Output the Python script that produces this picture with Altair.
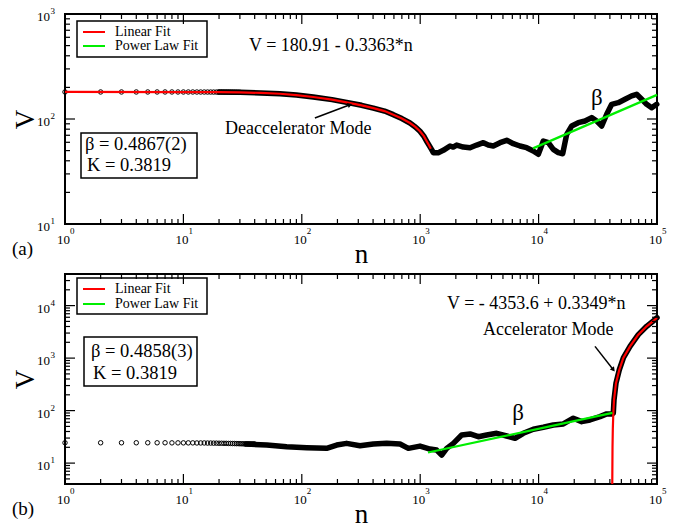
import altair as alt
import pandas as pd

FONT = "Liberation Serif"
W, H = 592, 210

# ---------------- axis ticks and tick labels ----------------
x_major = [1, 10, 100, 1000, 10000, 100000]
x_exponents = ["0", "1", "2", "3", "4", "5"]
x_minor = [m * 10 ** k for k in range(5) for m in range(2, 10)]

top_y_major = [10, 100, 1000]
top_y_exponents = ["1", "2", "3"]
top_y_minor = [m * 10 ** k for k in (1, 2) for m in range(2, 10)]

bot_y_major = [10, 100, 1000, 10000]
bot_y_exponents = ["1", "2", "3", "4"]
bot_y_minor = [5, 6, 7, 8, 9] + [m * 10 ** k for k in (1, 2, 3) for m in range(2, 10)] + [20000, 30000]

fit_names = ["Linear Fit", "Power Law Fit"]
fit_colors = ["#ff0000", "#00ee00"]

# ---------------- panel (a): decelerating run ----------------
a_circle_n = list(range(1, 31))
a_circle_v = [180.9, 180.9, 180.9, 180.9, 180.9, 180.9, 180.9, 180.9, 180.8, 180.8,
              180.8, 180.8, 180.7, 180.7, 180.7, 180.6, 180.6, 180.5, 180.5, 180.4,
              180.4, 180.3, 180.3, 180.2, 180.1, 180.0, 179.9, 179.8, 179.7, 179.5]

a_band_n = [20, 30, 45, 65.5, 90, 125, 180, 239, 320, 402, 500, 593, 700, 820, 910,
            996, 1070, 1135, 1190, 1250, 1291, 1422, 1567, 1786, 1900, 2033, 2312,
            2636, 3000, 3414, 3760, 4143, 4721, 5379, 6113, 6966, 7928, 9020, 9950,
            10960, 12080, 13310, 14670, 15980, 17270, 19040, 21640, 24660, 28070,
            30960, 34120, 37600, 41420, 47100, 53700, 61100, 67300, 74300, 81800,
            90200, 99500]
a_band_v = [180.3, 179.5, 177, 174, 169, 162, 153, 144, 135, 127, 119, 110, 101, 91.6, 84,
            76.4, 69, 61.3, 56, 51, 47.8, 47.8, 50.3, 55.3, 54.0, 56.5, 54.1,
            53.3, 56.5, 59.5, 56.5, 55.3, 59.5, 62.7, 58.2, 55.3, 53.3, 49.6, 46.1,
            61.7, 59.5, 51.4, 47.8, 46.7, 71.5, 85.8, 92.2, 95.7, 103,
            95.7, 85.8, 111, 138, 143, 154, 166, 172, 154, 138,
            128, 138]

a_lin_n = [1, 10, 20, 30, 45, 65.5, 90, 125, 180, 239, 320, 402, 500, 593, 700, 820,
           910, 996, 1070, 1135, 1190, 1230]
a_lin_v = [180.91, 180.6, 180.3, 179.5, 177, 174, 169, 162, 153, 144, 135, 127, 119, 110,
           101, 91.6, 84, 76.4, 69, 61.3, 56, 52]

a_beta, a_K = 0.4867, 0.3819
a_pow_n = [8970, 100000]
a_pow_v0 = 52.5

# ---------------- panel (b): accelerating run ----------------
b_circle_n = list(range(1, 41))
b_circle_v = [24.4, 24.4, 24.4, 24.4, 24.4, 24.4, 24.4, 24.3, 24.3, 24.3,
              24.3, 24.3, 24.2, 24.2, 24.2, 24.1, 24.1, 24.0, 24.0, 23.9,
              23.9, 23.8, 23.8, 23.7, 23.7, 23.6, 23.6, 23.5, 23.5, 23.4,
              23.4, 23.3, 23.3, 23.2, 23.2, 23.2, 23.1, 23.1, 23.1, 23.1]

b_band_n = [34, 50.6, 74.6, 110, 162, 197, 239, 310, 402, 521, 675, 794, 996, 1210,
            1378, 1519, 1675, 1905, 2240, 2636, 3096, 3645, 4426, 5379, 6322, 7430,
            9020, 10960, 13310, 16170, 19640, 23120, 27160, 33000, 37600, 41420,
            42760, 43350, 45050, 48060, 51960, 59180, 69530, 81800, 96140, 100000]
b_band_v = [23.1, 22.1, 20.5, 19.6, 19.1, 22.1, 23.8, 21.4, 23.1, 23.8, 23.1, 19.1, 21.1, 18.5,
            17.7, 14.2, 19.1, 23.8, 34.3, 35.9, 31.8, 34.3, 37.0, 32.8, 29.7, 37.0,
            44.1, 48.2, 53.3, 55.7, 71.6, 61.6, 66.4, 76.8, 86.5, 86.5,
            89.2, 160, 334, 600, 1005, 1675, 2800, 4040, 5420, 5900]

b_lin_n = [41900, 42100, 42350, 42760, 43350, 45050, 48060, 51960, 59180, 69530,
           81800, 96140, 100000]
b_lin_v = [4, 20, 45, 89.2, 160, 334, 600, 1005, 1675, 2800, 4040, 5420, 5900]

b_beta, b_K = 0.4858, 0.3819
b_pow_n = [1164, 42000]
b_pow_v0 = 15.9


def power_law(ns, v0, beta):
    return [v0 * (n / ns[0]) ** beta for n in ns]


def one_row():
    return pd.DataFrame({"k": [0]})


def panel(tag, y_domain, y_major, y_exps, y_minor, circ_n, circ_v, band_n, band_v,
          lin_n, lin_v, pow_n, pow_v, legend_box, legend_rows, stats, stats_box, stats_x,
          notes, beta_pos, arrow):
    x_scale = alt.Scale(type="log", domain=[1, 100000], nice=False)
    y_scale = alt.Scale(type="log", domain=y_domain, nice=False)
    x_axis = alt.Axis(title="n", labels=False, ticks=False, domain=False, grid=False,
                      titleFont=FONT, titleFontSize=27, titleFontWeight="normal",
                      titleColor="black", titleY=38, titleBaseline="alphabetic")
    y_axis = alt.Axis(title="V", labels=False, ticks=False, domain=False, grid=False,
                      titleFont=FONT, titleFontSize=27, titleFontWeight="normal",
                      titleColor="black", titleX=-32, titleBaseline="alphabetic")
    X = alt.X("n:Q", scale=x_scale, axis=x_axis)
    Y = alt.Y("V:Q", scale=y_scale, axis=y_axis)

    layers = []

    # data: single circles for the first steps, then the dense run as a thick band
    layers.append(alt.Chart(pd.DataFrame({"n": circ_n, "V": circ_v})).mark_point(
        shape="circle", filled=False, size=20, color="black", strokeWidth=1, opacity=1
    ).encode(x=X, y=Y))
    layers.append(alt.Chart(pd.DataFrame({"n": band_n, "V": band_v})).mark_line(
        color="black", strokeWidth=5.5, strokeJoin="round", strokeCap="round"
    ).encode(x=X, y=Y))

    # fits
    fits = pd.DataFrame({
        "n": lin_n + pow_n,
        "V": lin_v + pow_v,
        "fit": [fit_names[0]] * len(lin_n) + [fit_names[1]] * len(pow_n),
    })
    layers.append(alt.Chart(fits).mark_line(strokeWidth=2.2).encode(
        x=X, y=Y,
        color=alt.Color("fit:N", scale=alt.Scale(domain=fit_names, range=fit_colors), legend=None),
    ))

    # fit key in the upper-left corner
    lx0, lx1, ly0, ly1 = legend_box
    layers.append(alt.Chart(one_row()).mark_rect(filled=False, stroke="black", strokeWidth=1.5).encode(
        x=alt.value(lx0), x2=alt.value(lx1), y=alt.value(ly0), y2=alt.value(ly1)))
    for name, col, yy in zip(fit_names, fit_colors, legend_rows):
        layers.append(alt.Chart(one_row()).mark_rule(color=col, strokeWidth=2).encode(
            x=alt.value(lx0 + 6), x2=alt.value(lx0 + 28), y=alt.value(yy)))
        layers.append(alt.Chart(one_row()).mark_text(font=FONT, fontSize=14, align="left",
                                                     baseline="middle", color="black").encode(
            x=alt.value(lx0 + 38), y=alt.value(yy), text=alt.value(name)))

    # inward ticks on all four sides
    xmaj = pd.DataFrame({"n": x_major})
    xmin = pd.DataFrame({"n": x_minor})
    ymaj = pd.DataFrame({"V": y_major})
    ymin = pd.DataFrame({"V": y_minor})
    tick = dict(color="black", strokeWidth=1.2)
    for df, ln in ((xmaj, 10), (xmin, 5)):
        layers.append(alt.Chart(df).mark_rule(**tick).encode(x=X, y=alt.value(H), y2=alt.value(H - ln)))
        layers.append(alt.Chart(df).mark_rule(**tick).encode(x=X, y=alt.value(0), y2=alt.value(ln)))
    for df, ln in ((ymaj, 10), (ymin, 5)):
        layers.append(alt.Chart(df).mark_rule(**tick).encode(y=Y, x=alt.value(0), x2=alt.value(ln)))
        layers.append(alt.Chart(df).mark_rule(**tick).encode(y=Y, x=alt.value(W), x2=alt.value(W - ln)))

    # tick labels: "10" with a raised exponent
    xl = pd.DataFrame({"n": x_major, "e": x_exponents})
    layers.append(alt.Chart(xl).mark_text(font=FONT, fontSize=13, align="center",
                                          baseline="alphabetic", dx=-1.5, color="black").encode(
        x=X, y=alt.value(H + 19.5), text=alt.value("10")))
    layers.append(alt.Chart(xl).mark_text(font=FONT, fontSize=9, align="left",
                                          baseline="alphabetic", dx=5, color="black").encode(
        x=X, y=alt.value(H + 9.5), text="e:N"))
    yl = pd.DataFrame({"V": y_major, "e": y_exps})
    layers.append(alt.Chart(yl).mark_text(font=FONT, fontSize=13, align="right",
                                          baseline="alphabetic", dy=7, color="black").encode(
        y=Y, x=alt.value(-15), text=alt.value("10")))
    layers.append(alt.Chart(yl).mark_text(font=FONT, fontSize=9, align="left",
                                          baseline="alphabetic", dy=0, color="black").encode(
        y=Y, x=alt.value(-14.5), text="e:N"))

    # fit parameters box
    bx0, bx1, by0, by1 = stats_box
    layers.append(alt.Chart(one_row()).mark_rect(filled=False, stroke="black", strokeWidth=1.5).encode(
        x=alt.value(bx0), x2=alt.value(bx1), y=alt.value(by0), y2=alt.value(by1)))
    for (txt, yy), xx in zip(stats, stats_x):
        layers.append(alt.Chart(one_row()).mark_text(font=FONT, fontSize=18.5, align="left",
                                                     baseline="middle", color="black").encode(
            x=alt.value(xx), y=alt.value(yy), text=alt.value(txt)))

    # annotations in data coordinates
    nd = pd.DataFrame(notes, columns=["n", "V", "label"])
    layers.append(alt.Chart(nd).mark_text(font=FONT, fontSize=18, align="left",
                                          baseline="middle", color="black").encode(
        x=X, y=Y, text="label:N"))
    layers.append(alt.Chart(pd.DataFrame({"n": [beta_pos[0]], "V": [beta_pos[1]], "label": ["β"]})).mark_text(
        font=FONT, fontSize=23, align="center", baseline="middle", color="black").encode(
        x=X, y=Y, text="label:N"))
    (n1, v1), (n2, v2), ang = arrow
    ad = pd.DataFrame({"n": [n1], "V": [v1], "n2": [n2], "V2": [v2]})
    layers.append(alt.Chart(ad).mark_rule(color="black", strokeWidth=1.5).encode(
        x=X, y=Y, x2="n2:Q", y2="V2:Q"))
    layers.append(alt.Chart(pd.DataFrame({"n": [n2], "V": [v2]})).mark_point(
        shape="triangle-up", filled=True, size=28, angle=ang, color="black", opacity=1).encode(x=X, y=Y))

    # panel tag
    layers.append(alt.Chart(one_row()).mark_text(font=FONT, fontSize=19, align="left",
                                                 baseline="middle", color="black").encode(
        x=alt.value(-53), y=alt.value(235), text=alt.value(tag)))

    return alt.layer(*layers).properties(width=W, height=H)


top = panel(
    "(a)", [10, 1000], top_y_major, top_y_exponents, top_y_minor,
    a_circle_n, a_circle_v, a_band_n, a_band_v, a_lin_n, a_lin_v,
    a_pow_n, power_law(a_pow_n, a_pow_v0, a_beta),
    (12, 142, 7, 43), (18, 32),
    [(f"β = {a_beta}(2)", 130), (f"K = {a_K}", 151)], (16, 132, 119, 164), (20, 22),
    [(35.8, 495, "V = 180.91 - 0.3363*n"), (22.5, 80.4, "Deaccelerator Mode")],
    (31100, 158),
    ((129, 102.2), (255, 136.8), 69),
)

bottom = panel(
    "(b)", [4, 40000], bot_y_major, bot_y_exponents, bot_y_minor,
    b_circle_n, b_circle_v, b_band_n, b_band_v, b_lin_n, b_lin_v,
    b_pow_n, power_law(b_pow_n, b_pow_v0, b_beta),
    (12, 142, 4, 40), (15, 30),
    [(f"β = {b_beta}(3)", 77), (f"K = {b_K}", 99)], (19, 132, 63, 112), (26, 28),
    [(1683, 10960, "V = - 4353.6 + 0.3349*n"), (3390, 3490, "Accelerator Mode")],
    (6700, 90.4),
    ((29940, 1675), (42760, 600), 142),
)

chart = alt.vconcat(top, bottom, spacing=50, bounds="flush").resolve_scale(
    x="independent", y="independent", color="independent"
).properties(
    padding={"left": 10, "top": 6, "right": 10, "bottom": 3},
    background="white",
).configure_view(stroke="black", strokeWidth=2)

chart.save("out.html", embed_options={"renderer": "svg", "actions": False})
